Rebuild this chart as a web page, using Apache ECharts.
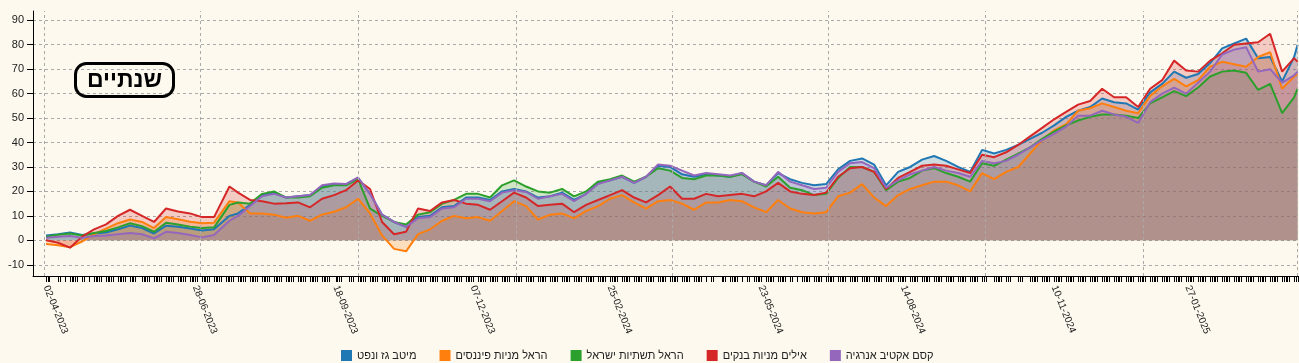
<!DOCTYPE html>
<html>
<head>
<meta charset="utf-8">
<script src="https://cdn.jsdelivr.net/npm/echarts@6/dist/echarts.min.js"></script>
<style>
html,body{margin:0;padding:0;background:#fdf9ee;}
#chart{width:1299px;height:363px;}
</style>
</head>
<body>
<div id="chart"></div>
<script>
// ---- data (weekly samples) ----
const dates = [
'2023-04-02','2023-04-09','2023-04-16','2023-04-23','2023-04-30','2023-05-07','2023-05-14','2023-05-21','2023-05-28',
'2023-06-04','2023-06-11','2023-06-18','2023-06-25','2023-07-02','2023-07-09','2023-07-18','2023-07-23','2023-07-30',
'2023-08-06','2023-08-13','2023-08-20','2023-08-27','2023-09-03','2023-09-10','2023-09-17','2023-09-24','2023-10-01',
'2023-10-08','2023-10-15','2023-10-22','2023-10-29','2023-11-05','2023-11-12','2023-11-19','2023-11-26','2023-12-03',
'2023-12-10','2023-12-17','2023-12-24','2023-12-31','2024-01-07','2024-01-14','2024-01-21','2024-01-28','2024-02-04',
'2024-02-11','2024-02-18','2024-02-25','2024-03-03','2024-03-10','2024-03-17','2024-03-24','2024-03-31','2024-04-07',
'2024-04-14','2024-04-21','2024-04-28','2024-05-05','2024-05-12','2024-05-19','2024-05-26','2024-06-02','2024-06-09',
'2024-06-16','2024-06-23','2024-06-30','2024-07-07','2024-07-14','2024-07-21','2024-07-28','2024-08-04','2024-08-11',
'2024-08-18','2024-08-25','2024-09-01','2024-09-08','2024-09-15','2024-09-22','2024-09-29','2024-10-06','2024-10-13',
'2024-10-20','2024-10-27','2024-11-03','2024-11-10','2024-11-17','2024-11-24','2024-12-01','2024-12-08','2024-12-15',
'2024-12-22','2024-12-29','2025-01-05','2025-01-12','2025-01-19','2025-01-26','2025-02-02','2025-02-09','2025-02-16',
'2025-02-23','2025-03-02','2025-03-09','2025-03-16','2025-03-23','2025-03-30','2025-04-01'
];
const seriesNames = ['מיטב גז ונפט','הראל מניות פיננסים','הראל תשתיות ישראל','אילים מניות בנקים','קסם אקטיב אנרגיה'];
const meitavGasOil = [2.0,2.5,3.2,2.2,2.8,3.2,4.5,6.0,5.0,2.8,6.0,5.5,4.8,4.0,4.5,10,11,14.5,18.5,19.5,17.5,18,18.5,22,23,23,25.5,19,10.5,7.5,5.5,9.5,10,13.5,14,17.5,17.5,16.5,20,21,20,17.5,18,19.5,16.5,19,23.5,24.5,26,23.5,26,30.5,30,27,26,27,26.5,26,27.5,24,22.5,27.5,25,23.5,22.5,23,29,32.5,33.5,31,22.5,28,30,33,34.5,32.5,30,28,37,35.5,37,39,41.5,44,47,50.5,53,54.5,58,56.5,56,53.5,60.5,64,69,66.5,68,72.5,78.5,80.5,82.5,74.5,75,65,75,80];
const harelFinance = [-1.5,-2.0,-2.8,-0.5,2.5,4.8,7.0,8.5,7.5,5.0,9.5,8.6,7.6,7.0,7.2,16,15.5,11,11,10.5,9.2,10,8,10.5,11.7,13.5,17,11,2,-3.5,-4.5,2.5,4.5,8,10,9,9.5,8,12,16,14,8.5,10.5,11,9,12,14,17,18.5,15.5,13,16,16.5,15,12.5,15.5,15.5,16.5,16,13.5,11.5,16.5,13,11.5,11,11.5,18,19.5,23,17.5,14,18.5,21,22.5,24,24,22.5,20,27.5,25,28,30,35.5,41,45,47.5,53,54,56,54.5,53,52,59,63,66,63,65.5,71,73,72,71,75,77,62,67,68];
const harelInfra = [1.5,2.3,2.8,2.0,3.0,3.8,5.3,7.0,5.8,3.5,7.2,6.5,5.6,5.0,5.3,14.5,15.5,15,19,20,17.5,17.5,18,21.5,22.5,22.5,25,13,10,7.5,6.5,10.5,11.5,15,16.5,19,19,17.5,22.5,24.5,22,20,19.5,21,18,20,24,25,26.5,24,26,29.5,28.5,25.5,25,26.5,26.5,26,27,24,22,26,21.5,20.5,18.5,19,25.5,30,30,28,20.5,24,25.5,28.5,29.5,27.5,26,24,31.5,30.5,33,35.5,38,41.5,44.5,47,49,50.5,51.5,51.5,51,50,56,58.5,61,59,62.5,67,69,69.5,68.5,61.5,64,52,58.5,62];
const ayalimBanks = [0,-1.0,-3.0,1.5,4.5,6.5,10,12.5,10,7.5,13,11.8,11,9.5,9.5,22,19.5,16.5,16,15,15.2,15.5,13.5,17,18.5,20.5,24.5,21,7.5,2.5,3.5,13,12,15.5,16.5,15,14.5,12.5,16,19.5,17.5,14,14.5,15,11.5,14.5,16.5,18.5,20.5,17.5,15.5,18.5,22,17,17,19,18,18.5,19,18,20,23.5,20,19,18.5,19.5,26,29.5,30,28,21,25.5,28,30.5,31,30.5,29,27.5,35,34,36,39,42.5,46,49.5,52.5,55.5,57,62,58.5,58.5,54.5,62,65.5,73.5,69.5,69,73.5,76.5,80,80.5,81,84.5,69,74.5,73];
const kesemEnergy = [1.0,1.5,1.8,1.0,1.8,2.0,2.5,3.0,2.5,0.8,3.5,3.0,2.2,1.2,2.2,8,10,14,18,19,17.5,18,18.5,22.5,23.2,23,25.7,19,10.5,7.5,5.5,9,9.5,13,13.5,17,17,16,19.5,20.5,19.8,17,18,19,16,19,23,24.5,26,23.5,26,31,30.5,28.5,26.5,27.5,27,26.5,27.5,24,22.5,28,24,22.5,21,21.5,28,31.5,32,29.5,21.5,24.5,27,28.5,30,28.5,27.5,26,32.5,31.5,32.5,35,38,41,43.5,46.5,51,51,53,51.5,50.5,48,56.5,60,62.5,60,64.5,69,76,78,79,69,70,64.5,67.5,69];
const labelDates = ['2023-04-02','2023-06-28','2023-09-18','2023-12-07','2024-02-25','2024-05-23','2024-08-14','2024-11-10','2025-01-27'];
const gridDates = ['2023-04-01','2023-07-01','2023-10-01','2024-01-01','2024-04-01','2024-07-01','2024-10-01','2025-01-01','2025-04-01'];
const holidays = ['2023-04-05','2023-04-06','2023-04-11','2023-04-12','2023-04-25','2023-04-26','2023-05-25','2023-09-17','2023-09-24','2023-09-25',
'2024-04-22','2024-04-23','2024-04-28','2024-04-29','2024-05-13','2024-05-14','2024-06-11','2024-06-12','2024-10-02','2024-10-03','2024-10-16','2024-10-17','2024-10-23','2024-10-24'];
const colors = ['#1f77b4','#ff7f0e','#2ca02c','#d62728','#9467bd'];
const title = 'שנתיים';

// ---- build ----
const DAY = 864e5;
const Y_MIN = -14.6, Y_MAX = 93.8;
const ts = s => { const p = s.split('-').map(Number); return Date.UTC(p[0], p[1]-1, p[2]); };
const dateTs = dates.map(ts);
const holidaySet = new Set(holidays.map(ts));
const tradingDays = [];
for (let t = ts('2023-04-02'); t <= ts('2025-04-01'); t += DAY) {
  const wd = new Date(t).getUTCDay();
  if (wd === 5 || wd === 6 || holidaySet.has(t)) continue;
  tradingDays.push(t);
}
const pad = n => (n < 10 ? '0' : '') + n;
const fmt = v => { const d = new Date(v); return pad(d.getUTCDate()) + '-' + pad(d.getUTCMonth()+1) + '-' + d.getUTCFullYear(); };
const FONT = '"Liberation Sans", Arial, sans-serif';
const allValues = [meitavGasOil, harelFinance, harelInfra, ayalimBanks, kesemEnergy];

const series = allValues.map((arr, i) => ({
  name: seriesNames[i],
  type: 'line',
  z: 2,
  symbol: 'none',
  showSymbol: false,
  smooth: false,
  lineStyle: { width: 2, color: colors[i] },
  itemStyle: { color: colors[i] },
  areaStyle: { color: colors[i], opacity: 0.22 },
  data: dateTs.map((t, j) => [t, arr[j]])
}));
series.unshift({
  name: 'grid',
  type: 'line',
  z: 1,
  data: [],
  silent: true,
  markLine: {
    silent: true,
    symbol: ['none', 'none'],
    label: { show: false },
    animation: false,
    lineStyle: { type: [3, 3], color: '#aaaaaa', width: 1 },
    data: gridDates.map(d => ({ xAxis: ts(d) }))
  }
});
// x-axis tick marks, one per trading day, placed through the axis scale
series.push({
  name: 'ticks',
  type: 'custom',
  silent: true,
  clip: false,
  z: 5,
  data: tradingDays.map(t => [t, Y_MIN]),
  renderItem: (params, api) => {
    const p = api.coord([api.value(0), Y_MIN]);
    const x = Math.round(p[0]) + 0.5;
    return { type: 'line', shape: { x1: x, y1: p[1], x2: x, y2: p[1] + 6 }, style: { stroke: '#000', lineWidth: 1 } };
  }
});

const chart = echarts.init(document.getElementById('chart'), null, { renderer: 'canvas' });
chart.setOption({
  animation: false,
  backgroundColor: '#fdf9ee',
  textStyle: { fontFamily: FONT },
  title: {
    text: title,
    left: 75, top: 63,
    padding: [6, 12, 5, 12],
    borderWidth: 3, borderColor: '#000', borderRadius: 11,
    textStyle: { fontSize: 23, fontWeight: 'bold', color: '#000', fontFamily: FONT }
  },
  legend: {
    data: seriesNames,
    left: 336, top: 345,
    itemWidth: 11, itemHeight: 11, itemGap: 23,
    icon: 'rect',
    textStyle: { fontSize: 11, color: '#222', fontFamily: FONT }
  },
  grid: { left: 33, top: 11, width: 1265, height: 265 },
  xAxis: {
    type: 'value',
    min: ts('2023-04-01') - 6.6 * DAY,
    max: ts('2025-04-01') + 0.25 * DAY,
    axisLine: { show: true, onZero: false, lineStyle: { color: '#000', width: 1 } },
    axisTick: { show: false },
    axisLabel: { customValues: labelDates.map(ts), formatter: fmt, rotate: -68, fontSize: 10, color: '#222', margin: 10, fontFamily: FONT },
    splitLine: { show: false }
  },
  yAxis: {
    type: 'value',
    min: Y_MIN, max: Y_MAX,
    splitNumber: 10,
    axisLine: { show: true, lineStyle: { color: '#000', width: 1 } },
    axisTick: { show: true, length: 6, lineStyle: { color: '#000' } },
    axisLabel: { fontSize: 11, color: '#222', margin: 9, showMinLabel: false, showMaxLabel: false, fontFamily: FONT },
    splitLine: { show: true, showMinLine: false, showMaxLine: false, lineStyle: { type: [3, 3], color: '#aaaaaa', width: 1 } }
  },
  series: series
});
</script>
</body>
</html>
